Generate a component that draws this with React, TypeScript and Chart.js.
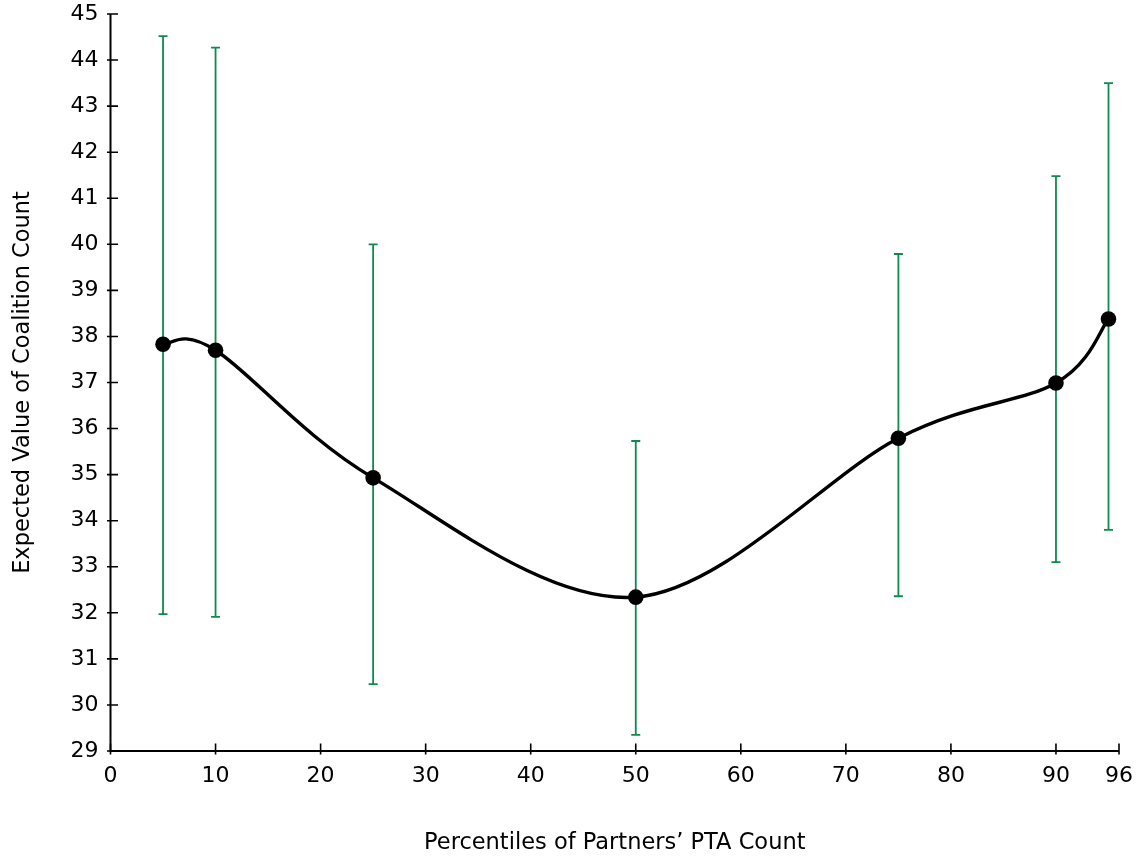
import React, { useEffect, useRef } from "react";
import { Chart, registerables } from "chart.js";

Chart.register(...registerables);

const percentiles = [5, 10, 25, 50, 75, 90, 95];
const expectedValues = [37.83, 37.7, 34.93, 32.34, 35.79, 36.99, 38.38];
const upperBounds = [44.52, 44.27, 40.0, 35.73, 39.79, 41.48, 43.5];
const lowerBounds = [31.97, 31.91, 30.45, 29.35, 32.36, 33.1, 33.8];
const xTickValues = [0, 10, 20, 30, 40, 50, 60, 70, 80, 90, 96];
const xTitle = "Percentiles of Partners\u2019 PTA Count";
const yTitle = "Expected Value of Coalition Count";

const FONT = "'DejaVu Sans', sans-serif";
const BAR_COLOR = "#0e8a4f";

export default function App() {
  const ref = useRef<HTMLCanvasElement>(null);

  useEffect(() => {
    if (!ref.current) return;

    const errorBarsAndCurve = {
      id: "errorBarsAndCurve",
      beforeDatasetsDraw(chart: any) {
        const { ctx } = chart;
        const xs = chart.scales.x;
        const ys = chart.scales.y;
        ctx.save();
        ctx.strokeStyle = BAR_COLOR;
        ctx.lineWidth = 1.8;
        percentiles.forEach((p, i) => {
          const px = xs.getPixelForValue(p);
          const top = ys.getPixelForValue(upperBounds[i]);
          const bot = ys.getPixelForValue(lowerBounds[i]);
          ctx.beginPath();
          ctx.moveTo(px, top);
          ctx.lineTo(px, bot);
          ctx.moveTo(px - 4.5, top);
          ctx.lineTo(px + 4.5, top);
          ctx.moveTo(px - 4.5, bot);
          ctx.lineTo(px + 4.5, bot);
          ctx.stroke();
        });
        // Catmull-Rom curve through the points (pixel space)
        const pts = percentiles.map((p, i) => ({
          x: xs.getPixelForValue(p),
          y: ys.getPixelForValue(expectedValues[i]),
        }));
        const n = pts.length;
        const tang = pts.map((_, i) => {
          const a = pts[Math.max(0, i - 1)];
          const b = pts[Math.min(n - 1, i + 1)];
          return { x: (b.x - a.x) / 2, y: (b.y - a.y) / 2 };
        });
        ctx.strokeStyle = "#000";
        ctx.lineWidth = 3.4;
        ctx.lineJoin = "round";
        ctx.lineCap = "round";
        ctx.beginPath();
        ctx.moveTo(pts[0].x, pts[0].y);
        for (let i = 0; i < n - 1; i++) {
          const p0 = pts[i];
          const p1 = pts[i + 1];
          ctx.bezierCurveTo(
            p0.x + tang[i].x / 3,
            p0.y + tang[i].y / 3,
            p1.x - tang[i + 1].x / 3,
            p1.y - tang[i + 1].y / 3,
            p1.x,
            p1.y
          );
        }
        ctx.stroke();
        ctx.restore();
      },
    };

    const axesLines = {
      id: "axesLines",
      afterDraw(chart: any) {
        const { ctx, chartArea } = chart;
        const xs = chart.scales.x;
        const ys = chart.scales.y;
        ctx.save();
        ctx.strokeStyle = "#000";
        ctx.lineWidth = 2;
        ctx.beginPath();
        ctx.moveTo(chartArea.left, chartArea.top);
        ctx.lineTo(chartArea.left, chartArea.bottom);
        ctx.lineTo(chartArea.right, chartArea.bottom);
        ctx.stroke();
        ctx.lineWidth = 1.6;
        ctx.beginPath();
        ys.ticks.forEach((t: any) => {
          const py = ys.getPixelForValue(t.value);
          ctx.moveTo(chartArea.left - 3.5, py);
          ctx.lineTo(chartArea.left + 7.5, py);
        });
        xs.ticks.forEach((t: any) => {
          const px = xs.getPixelForValue(t.value);
          ctx.moveTo(px, chartArea.bottom + 3.5);
          ctx.lineTo(px, chartArea.bottom - 7.5);
        });
        ctx.stroke();
        ctx.restore();
      },
    };

    const chart = new Chart(ref.current, {
      type: "line",
      data: {
        datasets: [
          {
            data: percentiles.map((p, i) => ({ x: p, y: expectedValues[i] })),
            borderColor: "#000",
            borderWidth: 0,
            showLine: false,
            pointRadius: 7.8,
            pointBackgroundColor: "#000",
            pointBorderColor: "#000",
            pointBorderWidth: 0,
            fill: false,
            clip: false as any,
          },
        ],
      },
      options: {
        responsive: false,
        animation: false,
        layout: { padding: { top: 14, right: 23, left: 0, bottom: 0 } },
        plugins: {
          legend: { display: false },
          tooltip: { enabled: false },
        },
        scales: {
          x: {
            type: "linear",
            min: 0,
            max: 96,
            grid: { display: false, drawTicks: false },
            border: { display: false },
            afterBuildTicks: (scale: any) => {
              scale.ticks = xTickValues.map((v) => ({ value: v }));
            },
            afterFit: (scale: any) => {
              scale.height = 108;
              scale.paddingLeft = 0;
              scale.paddingRight = 0;
            },
            ticks: {
              autoSkip: false,
              maxRotation: 0,
              padding: 12,
              color: "#000",
              font: { family: FONT, size: 22 },
            },
            title: {
              display: true,
              text: xTitle,
              color: "#000",
              font: { family: FONT, size: 22.5 },
              padding: { top: 4, bottom: 2 },
            },
          },
          y: {
            type: "linear",
            min: 29,
            max: 45,
            grid: { display: false, drawTicks: false },
            border: { display: false },
            afterFit: (scale: any) => {
              scale.width = 110.5;
              scale.paddingTop = 0;
              scale.paddingBottom = 0;
            },
            ticks: {
              stepSize: 1,
              padding: 12,
              color: "#000",
              font: { family: FONT, size: 22 },
            },
            title: {
              display: true,
              text: yTitle,
              color: "#000",
              font: { family: FONT, size: 22.5 },
              padding: { top: 10, bottom: 4 },
            },
          },
        },
      },
      plugins: [errorBarsAndCurve, axesLines],
    });

    return () => chart.destroy();
  }, []);

  return (
    <div style={{ position: "absolute", left: 0, top: 0, width: 1142, height: 859, background: "#fff" }}>
      <canvas ref={ref} width={1142} height={859} style={{ display: "block" }} />
    </div>
  );
}
